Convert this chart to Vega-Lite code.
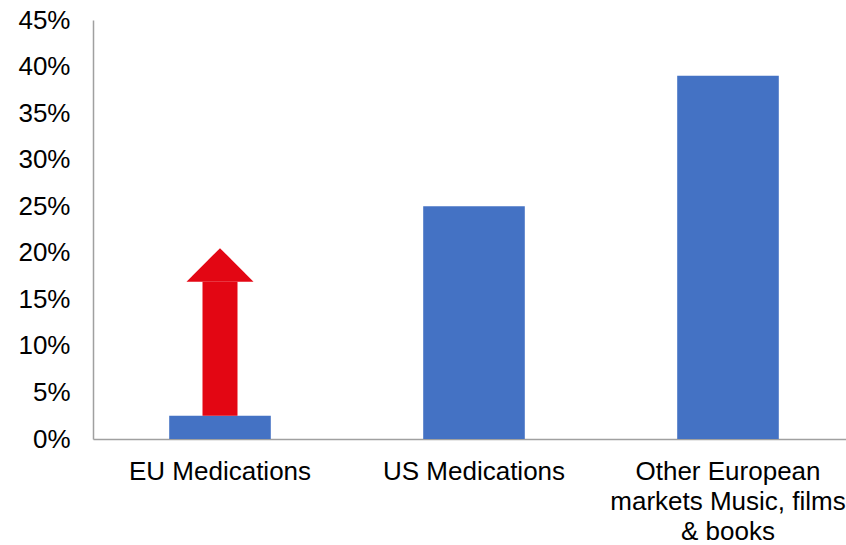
{
  "$schema": "https://vega.github.io/schema/vega-lite/v6.json",
  "autosize": {"type": "none"},
  "padding": {"left": 93, "top": 20, "right": 0, "bottom": 106},
  "width": 762,
  "height": 419,
  "background": "white",
  "config": {
    "view": {"stroke": null},
    "font": "Liberation Sans",
    "axis": {"labelFont": "Liberation Sans", "labelFontSize": 26, "labelColor": "#000000", "grid": false, "ticks": false, "title": null, "domainColor": "#A0A0A0", "domainWidth": 1.5}
  },
  "datasets": {
    "bars": [
      {"category": "EU Medications", "value": 0.025},
      {"category": "US Medications", "value": 0.25},
      {"category": "Other European markets Music, films & books", "value": 0.39}
    ],
    "arrow": [
      {"category": "EU Medications", "from": 0.025, "to": 0.169, "head": 0.187}
    ]
  },
  "encoding": {
    "x": {
      "field": "category",
      "type": "nominal",
      "sort": null,
      "scale": {"domain": ["EU Medications", "US Medications", "Other European markets Music, films & books"], "paddingInner": 0.6, "paddingOuter": 0.3},
      "axis": {
        "labelAngle": 0,
        "labelPadding": 19,
        "labelLineHeight": 30,
        "labelLimit": 400,
        "labelBaseline": "top",
        "labelExpr": "datum.label == 'Other European markets Music, films & books' ? ['Other European', 'markets Music, films', '& books'] : datum.label"
      }
    }
  },
  "layer": [
    {
      "data": {"name": "bars"},
      "mark": {"type": "bar", "color": "#4472C4"},
      "encoding": {
        "y": {
          "field": "value",
          "type": "quantitative",
          "scale": {"domain": [0, 0.45], "nice": false},
          "axis": {"values": [0, 0.05, 0.1, 0.15, 0.2, 0.25, 0.3, 0.35, 0.4, 0.45], "format": ".0%", "labelPadding": 23}
        }
      }
    },
    {
      "data": {"name": "arrow"},
      "mark": {"type": "bar", "color": "#E30613", "width": 35},
      "encoding": {
        "y": {"field": "from", "type": "quantitative"},
        "y2": {"field": "to"}
      }
    },
    {
      "data": {"name": "arrow"},
      "mark": {"type": "point", "filled": true, "opacity": 1, "color": "#E30613", "shape": "M-1,0.5L0,-0.5L1,0.5Z", "size": 4489, "strokeWidth": 0},
      "encoding": {
        "y": {"field": "head", "type": "quantitative"}
      }
    }
  ]
}
